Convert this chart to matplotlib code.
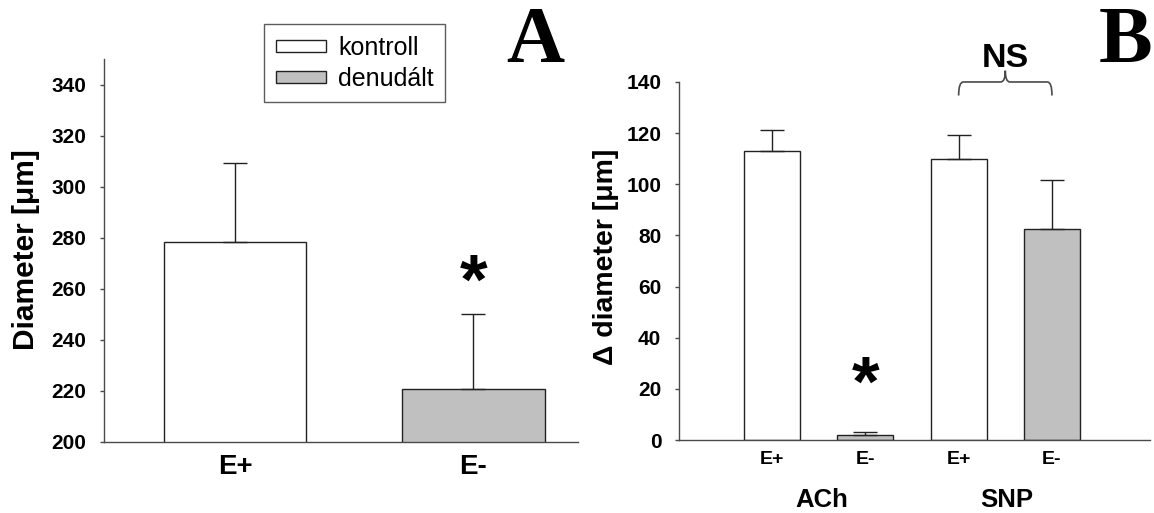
import numpy as np
import matplotlib
matplotlib.use("Agg")
import matplotlib.pyplot as plt
from matplotlib.patches import Patch, PathPatch
from matplotlib.path import Path
import matplotlib.transforms as mtransforms

plt.rcParams['font.family'] = ['Liberation Sans', 'DejaVu Sans']

# Panel A: resting diameter
labels_a = ['E+', 'E-']
diam_mean = [278.3, 220.6]
diam_sem = [30.9, 29.4]

# Panel B: change in diameter for ACh / SNP
labels_b = ['E+', 'E-', 'E+', 'E-']
groups_b = ['ACh', 'SNP']
delta_mean = [113.1, 2.0, 110.0, 82.5]
delta_sem = [8.2, 1.0, 9.4, 19.3]

legend_labels = ['kontroll', 'denudált']
fill_colors = ['white', '#c0c0c0']

AX_COL = '#4a4a4a'
EDGE_COL = '#222222'

fig = plt.figure(figsize=(11.54, 5.13), dpi=100)
ax_a = fig.add_axes([0.0901, 0.1390, 0.4108, 0.7454])
ax_b = fig.add_axes([0.5881, 0.1423, 0.4084, 0.6979])


def style_axes(ax, xlabel_size, xpad):
    for s in ('top', 'right'):
        ax.spines[s].set_visible(False)
    for s in ('left', 'bottom'):
        ax.spines[s].set_color(AX_COL)
        ax.spines[s].set_linewidth(1.0)
    ax.tick_params(axis='y', direction='out', length=3, width=1.0, color=AX_COL,
                   pad=9.5, labelsize=15)
    ax.tick_params(axis='x', length=0, pad=xpad, labelsize=xlabel_size)
    for t in ax.get_yticklabels() + ax.get_xticklabels():
        t.set_fontweight('bold')


def draw_bars(ax, x, means, sems, colors):
    ax.bar(x, means, width=0.6, color=colors, edgecolor=EDGE_COL, linewidth=1.0,
           zorder=2)
    ax.errorbar(x, means, yerr=[np.zeros(len(sems)), sems], fmt='none',
                ecolor=EDGE_COL, elinewidth=1.0, capsize=8.5, capthick=1.0, zorder=3)


# ---- Panel A ----
xa = np.arange(len(labels_a))
draw_bars(ax_a, xa, diam_mean, diam_sem, fill_colors)
ax_a.set_xlim(-0.55, 1.44)
ax_a.set_ylim(200, 350)
ax_a.set_yticks(np.arange(200, 341, 20))
ax_a.set_xticks(xa)
ax_a.set_xticklabels(labels_a)
style_axes(ax_a, 20, 9)
ax_a.text(1, 254.3, '*', ha='center', va='baseline', fontsize=51, fontweight='bold')

handles = [Patch(facecolor=c, edgecolor=EDGE_COL, linewidth=1.0) for c in fill_colors]
leg = ax_a.legend(handles, legend_labels, loc='upper left',
                  bbox_to_anchor=(0.2290, 0.9526), bbox_transform=fig.transFigure,
                  borderaxespad=0, fontsize=18, frameon=True, fancybox=False,
                  handlelength=2.0, handleheight=0.36, handletextpad=0.5,
                  labelspacing=0.28, borderpad=0.45)
leg.get_frame().set_edgecolor('#333333')
leg.get_frame().set_linewidth(1.0)

# ---- Panel B ----
xb = np.arange(len(labels_b))
draw_bars(ax_b, xb, delta_mean, delta_sem, fill_colors * 2)
ax_b.set_xlim(-1.0, 4.05)
ax_b.set_ylim(0, 140)
ax_b.set_yticks(np.arange(0, 141, 20))
ax_b.set_xticks(xb)
ax_b.set_xticklabels(labels_b)
style_axes(ax_b, 14, 8)
ax_b.text(1, 13.3, '*', ha='center', va='baseline', fontsize=51, fontweight='bold')

trans = mtransforms.blended_transform_factory(ax_b.transData, ax_b.transAxes)
for gx, g in zip([0.53, 2.52], groups_b):
    ax_b.text(gx, -0.168, g, transform=trans, ha='center', va='center',
              fontsize=18.5, fontweight='bold')

# curly brace over the SNP pair
x0, x1 = xb[2], xb[3]
xm = (x0 + x1) / 2
yh = ax_b.get_ylim()[1]
yb, yp = yh - 5.3, yh + 4.4
dx = 0.05
verts = [(x0, yb), (x0, yh), (x0 + dx, yh), (xm - dx, yh),
         (xm, yh), (xm, yp),
         (xm, yh), (xm + dx, yh), (x1 - dx, yh),
         (x1, yh), (x1, yb)]
codes = [Path.MOVETO, Path.CURVE3, Path.CURVE3, Path.LINETO,
         Path.CURVE3, Path.CURVE3,
         Path.CURVE3, Path.CURVE3, Path.LINETO,
         Path.CURVE3, Path.CURVE3]
ax_b.add_patch(PathPatch(Path(verts, codes), facecolor='none', edgecolor=AX_COL,
                         linewidth=1.2, clip_on=False))
ax_b.text(xm, yh + 6.0, 'NS', ha='center', va='baseline', fontsize=24.5,
          fontweight='bold')

# axis titles
fig.text(0.0224, 0.5127, 'Diameter [μm]', rotation=90, ha='center', va='center',
         fontsize=21.5, fontweight='bold')
fig.text(0.5250, 0.4996, 'Δ diameter [μm]', rotation=90, ha='center', va='center',
         fontsize=20.5, fontweight='bold')

# panel letters
fig.text(0.464, 1 - 62 / 513, 'A', ha='center', va='baseline', fontsize=58,
         fontweight='bold', family='Liberation Serif')
fig.text(0.9755, 1 - 62 / 513, 'B', ha='center', va='baseline', fontsize=58,
         fontweight='bold', family='Liberation Serif')

fig.savefig('out.png', dpi=100)
